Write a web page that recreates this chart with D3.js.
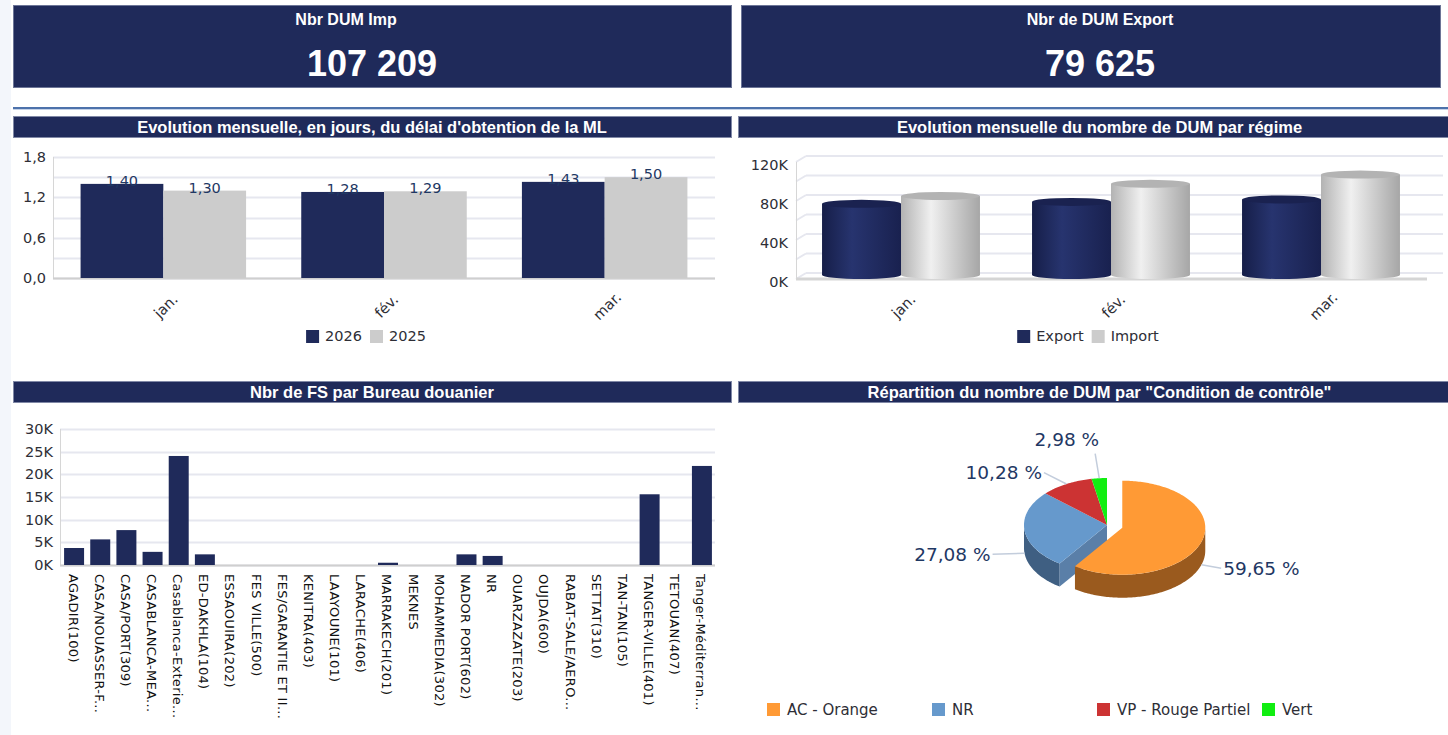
<!DOCTYPE html>
<html>
<head>
<meta charset="utf-8">
<script src="https://cdn.jsdelivr.net/npm/d3@7/dist/d3.min.js"></script>
<style>
  html, body { margin: 0; padding: 0; background: #fff; }
  svg { display: block; }
  text { font-family: "DejaVu Sans", Verdana, sans-serif; }
  .bold { font-family: "Liberation Sans", Arial, sans-serif; font-weight: bold; fill: #fff; }
</style>
</head>
<body>
<svg id="dash" width="1448" height="735"></svg>
<script>
// ---- data ----
const kpiTitles = ["Nbr DUM Imp", "Nbr de DUM Export"];
const kpiValues = [107209, 79625];

const panelTitles = [
  "Evolution mensuelle, en jours, du délai d'obtention de la ML",
  "Evolution mensuelle du nombre de DUM par régime",
  "Nbr de FS par Bureau douanier",
  "Répartition du nombre de DUM par \"Condition de contrôle\""
];

const months = ["jan.", "fév.", "mar."];

const delaySeries = ["2026", "2025"];
const delay2026 = [1.40, 1.28, 1.43];
const delay2025 = [1.30, 1.29, 1.50];
const delayTicks = [0, 0.6, 1.2, 1.8];

const regimeSeries = ["Export", "Import"];
const dumExport = [73000, 75000, 77500];
const dumImport = [81000, 93500, 103000];
const regimeTicks = [0, 40000, 80000, 120000];

const bureaux = [
  "AGADIR(100)", "CASA/NOUASSER-F...", "CASA/PORT(309)", "CASABLANCA-MEA...",
  "Casablanca-Exterie...", "ED-DAKHLA(104)", "ESSAOUIRA(202)", "FES VILLE(500)",
  "FES/GARANTIE ET II...", "KENITRA(403)", "LAAYOUNE(101)", "LARACHE(406)",
  "MARRAKECH(201)", "MEKNES", "MOHAMMEDIA(302)", "NADOR PORT(602)", "NR",
  "OUARZAZATE(203)", "OUJDA(600)", "RABAT-SALE/AERO...", "SETTAT(310)",
  "TAN-TAN(105)", "TANGER-VILLE(401)", "TETOUAN(407)", "Tanger-Méditerran..."
];
const fsCounts = [3750, 5650, 7700, 2900, 24050, 2350, 0, 0, 0, 0, 0, 0,
  500, 0, 0, 2350, 2000, 0, 0, 0, 0, 0, 15600, 0, 21850];
const fsTicks = [0, 5000, 10000, 15000, 20000, 25000, 30000];

const conditions = ["AC - Orange", "NR", "VP - Rouge Partiel", "Vert"];
const conditionShares = [59.65, 27.08, 10.28, 2.98];

// ---- styles ----
const navy = "#1f2a5a";
const grey = "#cccccc";
const tickColor = "#2e2e36";
const valueColor = "#1f3864";
const gridColor = "#e6e7ef";
const pieTop = ["#ff9a35", "#6699cc", "#cc3333", "#11ee11"];
const pieWall = ["#9a5a1e", "#3f5f82", "#8a2020", "#0a9a0a"];
const pieFace = ["#b86c26", "#5a7fa8", "#a82a2a", "#0cc40c"];
const kpiTitleShift = [-26, 0];   // first card title sits left of centre in the source

const fr = d3.formatLocale({decimal: ",", thousands: " ", grouping: [3], currency: ["", ""]});
const fmtInt = fr.format(",d");
const fmt1 = fr.format(".1f");
const fmt2 = fr.format(".2f");
const fmtK = v => (v / 1000) + "K";

const svg = d3.select("#dash");
const W = 1448, H = 735;

svg.append("rect").attr("width", W).attr("height", H).attr("fill", "#fff");
svg.append("rect").attr("width", 11).attr("height", H).attr("fill", "#f3f6fb");

// ---- KPI cards ----
const cardW = 718;
[13, 741].forEach((x, i) => {
  svg.append("rect")
    .attr("x", x + 0.5).attr("y", 5.5)
    .attr("width", Math.min(cardW, 1440 - x)).attr("height", 82)
    .attr("fill", navy).attr("stroke", "#6c7597");
  svg.append("text").attr("class", "bold")
    .attr("x", x + cardW / 2 + kpiTitleShift[i]).attr("y", 25)
    .attr("text-anchor", "middle").attr("font-size", 16)
    .text(kpiTitles[i]);
  svg.append("text").attr("class", "bold")
    .attr("x", x + cardW / 2).attr("y", 76)
    .attr("text-anchor", "middle").attr("font-size", 36)
    .text(fmtInt(kpiValues[i]));
});

// separator
svg.append("rect").attr("x", 13).attr("y", 107).attr("width", W - 13).attr("height", 2).attr("fill", "#4d72ab");
svg.append("rect").attr("x", 13).attr("y", 109).attr("width", W - 13).attr("height", 1).attr("fill", "#c4d2e8");

// ---- panel headers ----
const panels = [
  {x: 13, y: 116, w: 718}, {x: 738, y: 116, w: 723},
  {x: 13, y: 381, w: 718}, {x: 738, y: 381, w: 723}
];
panels.forEach((p, i) => {
  svg.append("rect").attr("x", p.x + 0.5).attr("y", p.y + 0.5)
    .attr("width", p.w).attr("height", 21)
    .attr("fill", navy).attr("stroke", "#8088a6").attr("stroke-width", 1);
  svg.append("text").attr("class", "bold")
    .attr("x", p.x + p.w / 2).attr("y", p.y + 16.5)
    .attr("text-anchor", "middle").attr("font-size", 16.5)
    .text(panelTitles[i]);
});

function legend(names, colors, cx, y, size) {
  const g = svg.append("g");
  let x = 0;
  names.forEach((n, i) => {
    g.append("rect").attr("x", x).attr("y", y - 6).attr("width", 13).attr("height", 13).attr("fill", colors[i]);
    const t = g.append("text").attr("x", x + 19).attr("y", y).attr("dy", "0.35em")
      .attr("font-size", size).attr("fill", tickColor).text(n);
    x += 19 + t.node().getComputedTextLength() + 8;
  });
  g.attr("transform", "translate(" + (cx - x / 2) + ",0)");
}

function styleAxis(g) {
  g.select(".domain").remove();
  g.selectAll("text").attr("font-family", "DejaVu Sans").attr("font-size", 14.5).attr("fill", tickColor);
}

// ---- chart 1: délai ML ----
(function () {
  const x = d3.scaleBand().domain(months).range([53, 715]).paddingInner(0.25).paddingOuter(0.125);
  const xs = d3.scaleBand().domain(delaySeries).range([0, x.bandwidth()]);
  const y = d3.scaleLinear().domain([0, 1.8]).range([278, 157]);
  const g = svg.append("g");

  g.selectAll("line.grid").data(d3.range(0, 1.81, 0.3)).join("line")
    .attr("x1", 53).attr("x2", 715)
    .attr("y1", d => Math.round(y(d)) + 0.5).attr("y2", d => Math.round(y(d)) + 0.5)
    .attr("stroke", gridColor).attr("stroke-width", 2);
  g.append("line").attr("x1", 53.5).attr("x2", 53.5).attr("y1", 157).attr("y2", 279).attr("stroke", "#d6d6d6");
  g.append("line").attr("x1", 53).attr("x2", 715).attr("y1", 278.5).attr("y2", 278.5).attr("stroke", "#cfcfcf").attr("stroke-width", 2);

  g.append("g").attr("transform", "translate(53,0)")
    .call(d3.axisLeft(y).tickValues(delayTicks).tickSize(0).tickPadding(7).tickFormat(fmt1))
    .call(styleAxis);

  const rows = months.map((m, i) => ({m, vals: [delay2026[i], delay2025[i]]}));
  const cols = [navy, grey];
  rows.forEach(r => {
    r.vals.forEach((v, j) => {
      const bx = x(r.m) + xs(delaySeries[j]);
      g.append("rect").attr("x", bx).attr("y", y(v)).attr("width", xs.bandwidth()).attr("height", y(0) - y(v))
        .attr("fill", cols[j]);
      g.append("text").attr("x", bx + xs.bandwidth() / 2).attr("y", y(v) + 2)
        .attr("text-anchor", "middle").attr("font-size", 14.5).attr("fill", valueColor)
        .text(fmt2(v));
    });
  });

  months.forEach(m => {
    const cx = x(m) + x.bandwidth() / 2;
    g.append("text").attr("transform", "translate(" + (cx + 2.5) + ",306) rotate(-45)")
      .attr("text-anchor", "middle").attr("dy", "0.35em")
      .attr("font-size", 14.5).attr("fill", tickColor).text(m);
  });

  legend(delaySeries, cols, 370, 336, 14.5);
})();

// ---- chart 2: DUM par régime (cylinders) ----
(function () {
  const x = d3.scaleBand().domain(months).range([796, 1426]).paddingInner(0.248).paddingOuter(0.124);
  const xs = d3.scaleBand().domain(regimeSeries).range([0, x.bandwidth()]);
  const y = d3.scaleLinear().domain([0, 120000]).range([275, 158]);
  const g = svg.append("g");
  const defs = svg.append("defs");

  const grads = [
    {id: "cylExport", stops: [["0%", "#161e48"], ["38%", "#27346f"], ["100%", "#19214f"]]},
    {id: "cylImport", stops: [["0%", "#b3b3b3"], ["38%", "#f0f0f0"], ["100%", "#a6a6a6"]]}
  ];
  grads.forEach(gr => {
    const lg = defs.append("linearGradient").attr("id", gr.id).attr("x1", "0%").attr("x2", "100%");
    gr.stops.forEach(s => lg.append("stop").attr("offset", s[0]).attr("stop-color", s[1]));
  });
  const capColor = ["#1a2250", "#b3b3b3"];

  // 3D wall gridlines
  y.ticks(6).forEach(v => {
    const yy = y(v);
    g.append("line").attr("x1", 796).attr("y1", yy + 4).attr("x2", 806).attr("y2", yy - 2)
      .attr("stroke", gridColor).attr("stroke-width", 2);
    g.append("line").attr("x1", 806).attr("y1", yy - 2).attr("x2", 1443).attr("y2", yy - 2)
      .attr("stroke", gridColor).attr("stroke-width", 2);
  });
  g.append("line").attr("x1", 796.5).attr("x2", 796.5).attr("y1", y(120000) + 4).attr("y2", y(0) + 4).attr("stroke", "#d6d6d6");
  g.append("line").attr("x1", 796).attr("x2", 1427).attr("y1", y(0) + 4).attr("y2", y(0) + 4)
    .attr("stroke", "#d5d5d5").attr("stroke-width", 3);

  g.append("g").attr("transform", "translate(796,7)")
    .call(d3.axisLeft(y).tickValues(regimeTicks).tickSize(0).tickPadding(8).tickFormat(fmtK))
    .call(styleAxis);

  const ry = 4;
  months.forEach((m, i) => {
    [dumExport[i], dumImport[i]].forEach((v, j) => {
      const w = xs.bandwidth();
      const bx = x(m) + xs(regimeSeries[j]);
      const cx = bx + w / 2;
      g.append("ellipse").attr("cx", cx).attr("cy", y(0)).attr("rx", w / 2).attr("ry", ry)
        .attr("fill", "url(#" + grads[j].id + ")");
      g.append("rect").attr("x", bx).attr("y", y(v)).attr("width", w).attr("height", y(0) - y(v))
        .attr("fill", "url(#" + grads[j].id + ")");
      g.append("ellipse").attr("cx", cx).attr("cy", y(v)).attr("rx", w / 2).attr("ry", ry)
        .attr("fill", capColor[j]);
    });
  });

  months.forEach(m => {
    const cx = x(m) + x.bandwidth() / 2;
    g.append("text").attr("transform", "translate(" + (cx + 2.5) + ",306) rotate(-45)")
      .attr("text-anchor", "middle").attr("dy", "0.35em")
      .attr("font-size", 14.5).attr("fill", tickColor).text(m);
  });

  legend(regimeSeries, [navy, grey], 1092, 336, 14.5);
})();

// ---- chart 3: FS par bureau ----
(function () {
  const x = d3.scaleBand().domain(bureaux).range([61, 715]).paddingInner(0.236).paddingOuter(0.118);
  const y = d3.scaleLinear().domain([0, 30000]).range([565, 429]);
  const g = svg.append("g");

  g.selectAll("line.grid").data(fsTicks).join("line")
    .attr("x1", 60).attr("x2", 715)
    .attr("y1", d => Math.round(y(d)) + 0.5).attr("y2", d => Math.round(y(d)) + 0.5)
    .attr("stroke", gridColor).attr("stroke-width", 2);
  g.append("line").attr("x1", 60.5).attr("x2", 60.5).attr("y1", 429).attr("y2", 566).attr("stroke", "#d6d6d6");
  g.append("line").attr("x1", 60).attr("x2", 715).attr("y1", 565.5).attr("y2", 565.5).attr("stroke", "#cfcfcf").attr("stroke-width", 2);

  g.append("g").attr("transform", "translate(60,0)")
    .call(d3.axisLeft(y).tickValues(fsTicks).tickSize(0).tickPadding(7).tickFormat(fmtK))
    .call(styleAxis);

  g.selectAll("rect.bar").data(bureaux).join("rect")
    .attr("x", d => x(d)).attr("width", x.bandwidth())
    .attr("y", (d, i) => y(fsCounts[i])).attr("height", (d, i) => y(0) - y(fsCounts[i]))
    .attr("fill", navy);

  g.selectAll("text.lab").data(bureaux).join("text")
    .attr("transform", d => "translate(" + (x(d) + x.bandwidth() / 2 - 1) + ",574) rotate(90)")
    .attr("dy", "0.35em").attr("font-size", 13).attr("letter-spacing", 0.3)
    .attr("fill", "#111").text(d => d);
})();

// ---- chart 4: 3D pie ----
(function () {
  const cx = 1107, cy = 525, rx = 83, ry = 47, depth = 23, explode = 16;
  const arcs = d3.pie().sort(null).value(d => d)(conditionShares);
  const g = svg.append("g");

  const pt = (a, c, dy) => [c[0] + rx * Math.sin(a), c[1] - ry * Math.cos(a) + (dy || 0)];
  const arcPts = (a0, a1, c, dy) => {
    const n = Math.max(2, Math.ceil((a1 - a0) / 0.02));
    return d3.range(n + 1).map(k => pt(a0 + (a1 - a0) * k / n, c, dy));
  };
  const poly = pts => "M" + pts.map(p => p[0].toFixed(2) + "," + p[1].toFixed(2)).join("L") + "Z";

  arcs.forEach((a, i) => {
    const mid = (a.startAngle + a.endAngle) / 2;
    const off = i === 0 ? explode : 0;
    a.mid = mid;
    a.c = [cx + off * Math.sin(mid), cy - off * Math.cos(mid) * ry / rx];
  });

  function drawSlice(a, i) {
    const s = Math.max(a.startAngle, Math.PI / 2), e = Math.min(a.endAngle, 3 * Math.PI / 2);
    if (s < e) {
      g.append("path").attr("d", poly(arcPts(s, e, a.c, 0).concat(arcPts(s, e, a.c, depth).reverse())))
        .attr("fill", pieWall[i]);
    }
    // cut face next to the exploded slice
    const prev = arcs[(i + arcs.length - 1) % arcs.length];
    if (i !== 0 && prev === arcs[0] && Math.cos(a.startAngle - Math.PI / 2) < 0) {
      const p = pt(a.startAngle, a.c);
      g.append("path").attr("d", poly([a.c, p, [p[0], p[1] + depth], [a.c[0], a.c[1] + depth]]))
        .attr("fill", pieFace[i]);
    }
  }
  function drawTop(a, i) {
    g.append("path").attr("d", poly([a.c].concat(arcPts(a.startAngle, a.endAngle, a.c, 0))))
      .attr("fill", pieTop[i]);
  }

  arcs.forEach((a, i) => { if (i !== 0) drawSlice(a, i); });
  arcs.forEach((a, i) => { if (i !== 0) drawTop(a, i); });
  drawSlice(arcs[0], 0);
  drawTop(arcs[0], 0);

  // labels with leader lines
  arcs.forEach((a, i) => {
    const front = Math.cos(a.mid) < 0;
    const st = pt(a.mid, a.c, front ? depth : 0);
    let dx = rx * Math.sin(a.mid), dy = -ry * Math.cos(a.mid);
    const len = Math.hypot(dx, dy);
    dx /= len; dy /= len;
    const up = dy < -0.9;
    let en;
    if (up) en = [st[0] + dx * 25, st[1] + dy * 25];
    else if (dx > 0) en = [st[0] + dx * 20, st[1] + dy * 20];
    else en = [st[0] + dx * 32, st[1] + dy * 16];
    g.append("line").attr("x1", st[0]).attr("y1", st[1]).attr("x2", en[0]).attr("y2", en[1])
      .attr("stroke", "#c3cddc").attr("stroke-width", 1.5);
    g.append("text")
      .attr("x", up ? en[0] + 4 : en[0] + (dx > 0 ? 2 : -2))
      .attr("y", up ? en[1] - 8 : en[1])
      .attr("dy", up ? 0 : "0.35em")
      .attr("text-anchor", dx > 0 ? "start" : "end")
      .attr("font-size", 18.5).attr("fill", valueColor)
      .text(fmt2(conditionShares[i]) + " %");
  });

  // legend
  conditions.forEach((n, i) => {
    const lx = 767 + i * 165;
    g.append("rect").attr("x", lx).attr("y", 703).attr("width", 13).attr("height", 13).attr("fill", pieTop[i]);
    g.append("text").attr("x", lx + 20).attr("y", 709.5).attr("dy", "0.35em")
      .attr("font-size", 15).attr("fill", tickColor).text(n);
  });
})();
</script>
</body>
</html>
